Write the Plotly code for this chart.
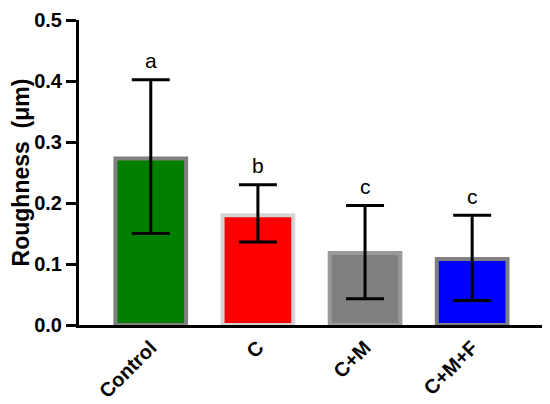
import plotly.graph_objects as go

categories = ["Control", "C", "C+M", "C+M+F"]
means = [0.273, 0.180, 0.118, 0.108]
upper = [0.402, 0.230, 0.196, 0.180]
lower = [0.150, 0.136, 0.043, 0.040]
letters = ["a", "b", "c", "c"]
fill_colors = ["#007f00", "#ff0000", "#808080", "#0000ff"]
edge_colors = ["#808080", "#d4d4d4", "#9a9a9a", "#808080"]

err_plus = [u - m for u, m in zip(upper, means)]
err_minus = [m - l for m, l in zip(means, lower)]

FONT = "Arial, Liberation Sans, sans-serif"

fig = go.Figure()
fig.add_trace(go.Bar(
    x=categories, y=means,
    width=0.66,
    marker=dict(color=fill_colors, line=dict(color=edge_colors, width=4)),
    error_y=dict(type="data", symmetric=False, array=err_plus, arrayminus=err_minus,
                 color="black", thickness=3, width=19),
    showlegend=False,
))

for c, u, t in zip(categories, upper, letters):
    fig.add_annotation(x=c, y=u, text=t, showarrow=False, yanchor="middle", yshift=19,
                       font=dict(family=FONT, size=21, color="black"))

# page body has an 8px default margin; figure is sized to fit the 550x404 window
fig.update_layout(
    width=542, height=396,
    margin=dict(l=71, r=5, t=12, b=79),
    plot_bgcolor="white", paper_bgcolor="white",
    font=dict(family=FONT, color="black"),
)
fig.update_xaxes(
    range=[-0.67, 3.68], showline=True, linecolor="black", linewidth=3,
    ticks="", tickangle=-45, showgrid=False, zeroline=False, automargin=False,
    tickfont=dict(family=FONT, size=20, color="black", weight="bold"),
)
fig.update_yaxes(
    range=[0, 0.5], dtick=0.1, tickformat=".1f", showline=True, linecolor="black",
    linewidth=3, ticks="outside", ticklen=10, tickwidth=3, tickcolor="black",
    showgrid=False, zeroline=False, automargin=False, ticklabeloverflow="allow",
    tickfont=dict(family=FONT, size=20, color="black", weight="bold"),
    title=dict(text="Roughness\u00a0 (μm)", font=dict(family=FONT, size=23, color="black", weight="bold"), standoff=6),
)

fig.write_html("out.html")
